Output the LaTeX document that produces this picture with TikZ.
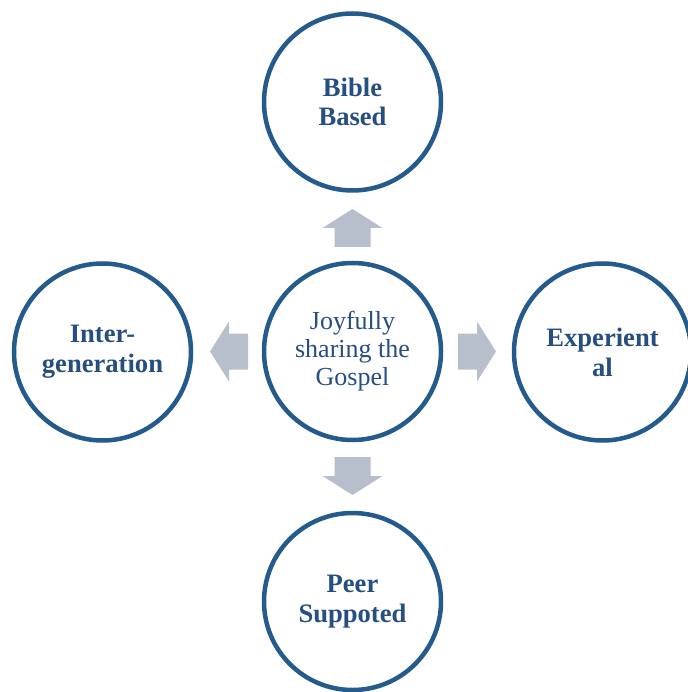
\documentclass[tikz,border=0pt]{standalone}
\usepackage{fontspec}
\setmainfont{Liberation Serif}
\usetikzlibrary{calc}
\definecolor{ringblue}{HTML}{255A8C}
\definecolor{textblue}{HTML}{264E80}
\definecolor{arrowfill}{HTML}{B8BFCC}
\begin{document}
\begin{tikzpicture}[x=1pt,y=-1pt,
  ring/.style={circle,draw=ringblue,line width=4.5pt,fill=white,minimum size=177pt,inner sep=0pt,
    align=center,text=textblue},
  outer/.style={ring,font=\fontsize{26.6}{29.8}\selectfont\bfseries},
  inner/.style={ring,font=\fontsize{26}{28}\selectfont},
  pics/blockarrow/.style={code={\fill[arrowfill] (0,-18) -- (19,-18) -- (19,-30) -- (38,0) -- (19,30) -- (19,18) -- (0,18) -- cycle;}}]
\useasboundingbox (0,0) rectangle (687,692);
\node[inner] (c) at (352.5,351.5) {Joyfully\\sharing the\\Gospel};
\node[outer] (t) at (352.5,102) {Bible\\Based};
\node[outer] (b) at (352.5,601.5) {Peer\\Suppoted};
\node[outer] (l) at (102.5,352) {Inter-\\generation};
\node[outer] (r) at (602.5,352) {Experient\\al};
\pic[rotate=90] at ($(c)+(0,-104.5)$) {blockarrow};
\pic[rotate=270] at ($(c)+(0,105.5)$) {blockarrow};
\pic[rotate=180] at ($(c)+(-104.5,0)$) {blockarrow};
\pic[rotate=0] at ($(c)+(105.5,0)$) {blockarrow};
\end{tikzpicture}
\end{document}
